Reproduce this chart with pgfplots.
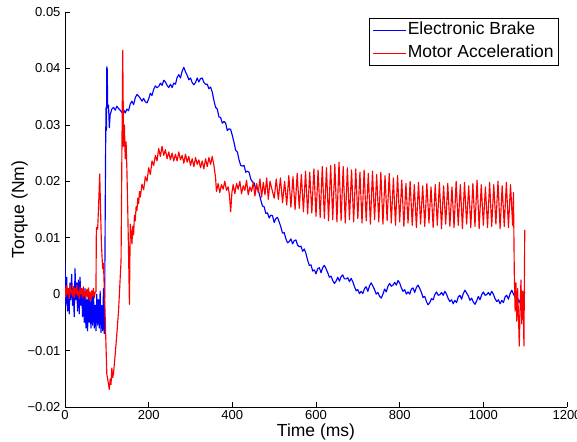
\documentclass[border=0pt]{standalone}
\usepackage{pgfplots}
\pgfplotsset{compat=1.18}
\usepackage{fontspec}
\setmainfont{Liberation Sans}
\usetikzlibrary{calc}

% Electronic Brake (time in ms, torque in Nm)
\pgfplotstableread{
t v
0 0.0058
2 -0.0020
4 0.0030
6 -0.0030
8 0.0010
10 -0.0035
12 0.0020
14 -0.0010
16 0.0035
18 -0.0020
20 0.0010
22 -0.0040
24 0.0045
26 -0.0010
28 0.0020
30 -0.0030
32 0.0025
34 -0.0035
36 0.0030
38 -0.0020
40 0.0010
42 -0.0040
44 0.0005
46 -0.0050
48 0.0010
50 -0.0060
52 -0.0010
54 -0.0065
56 0.0010
58 -0.0050
60 -0.0010
62 -0.0060
64 0.0000
66 -0.0055
68 0.0005
70 -0.0060
72 -0.0020
74 -0.0065
76 0.0000
78 -0.0055
80 -0.0010
82 -0.0060
84 0.0005
86 -0.0068
88 -0.0020
90 -0.0065
92 0.0010
94 -0.0070
95 0.0005
97 0.0250
98 0.0330
99 0.0290
100 0.0403
101 0.0398
102 0.0330
104 0.0335
106 0.0295
108 0.0318
112 0.0328
116 0.0331
120 0.0326
124 0.0333
128 0.0329
132 0.0326
136 0.0322
140 0.0327
144 0.0321
148 0.0328
152 0.0325
156 0.0337
160 0.0342
164 0.0336
168 0.0348
172 0.0354
176 0.0351
180 0.0347
184 0.0342
188 0.0347
192 0.0341
196 0.0339
200 0.0346
204 0.0356
208 0.0352
212 0.0363
216 0.0369
220 0.0366
224 0.0368
228 0.0374
232 0.0370
236 0.0379
240 0.0376
244 0.0370
248 0.0366
252 0.0372
256 0.0366
260 0.0374
264 0.0372
268 0.0384
272 0.0389
276 0.0383
280 0.0395
284 0.0402
288 0.0394
292 0.0388
296 0.0380
300 0.0383
304 0.0375
308 0.0371
312 0.0375
316 0.0383
320 0.0376
324 0.0382
328 0.0383
332 0.0375
336 0.0372
340 0.0372
344 0.0364
348 0.0367
352 0.0358
356 0.0343
360 0.0331
364 0.0328
368 0.0314
372 0.0313
376 0.0303
380 0.0306
384 0.0303
388 0.0290
392 0.0293
396 0.0292
400 0.0281
404 0.0269
408 0.0255
412 0.0252
416 0.0238
420 0.0228
424 0.0227
428 0.0228
432 0.0216
436 0.0218
440 0.0216
444 0.0204
448 0.0199
452 0.0197
456 0.0186
460 0.0189
464 0.0179
468 0.0167
472 0.0156
476 0.0155
480 0.0143
484 0.0144
488 0.0135
492 0.0140
496 0.0139
500 0.0127
504 0.0134
508 0.0136
512 0.0128
516 0.0119
520 0.0108
524 0.0109
528 0.0098
532 0.0091
536 0.0093
540 0.0098
544 0.0089
548 0.0095
552 0.0096
556 0.0087
560 0.0084
564 0.0085
568 0.0076
572 0.0080
576 0.0072
580 0.0060
584 0.0051
588 0.0052
592 0.0041
596 0.0043
600 0.0036
604 0.0045
608 0.0047
612 0.0038
616 0.0047
620 0.0051
624 0.0045
628 0.0038
632 0.0030
636 0.0032
640 0.0024
644 0.0019
648 0.0023
652 0.0030
656 0.0023
660 0.0031
664 0.0034
668 0.0027
672 0.0027
676 0.0029
680 0.0022
684 0.0028
688 0.0022
692 0.0013
696 0.0006
700 0.0008
704 0.0001
708 0.0005
712 0.0001
716 0.0010
720 0.0013
724 0.0005
728 0.0015
732 0.0020
736 0.0014
740 0.0008
744 0.0000
748 0.0003
752 -0.0004
756 -0.0007
760 0.0000
764 0.0009
768 0.0004
772 0.0014
776 0.0019
780 0.0014
784 0.0016
788 0.0021
792 0.0016
796 0.0024
800 0.0020
804 0.0011
808 0.0005
812 0.0008
816 0.0000
820 0.0004
824 0.0000
828 0.0009
832 0.0011
836 0.0003
840 0.0012
844 0.0016
848 0.0010
852 0.0003
856 -0.0006
860 -0.0004
864 -0.0013
868 -0.0019
872 -0.0015
876 -0.0008
880 -0.0010
884 -0.0001
888 0.0004
892 -0.0002
896 -0.0001
900 0.0003
904 -0.0002
908 0.0005
912 0.0000
916 -0.0008
920 -0.0013
924 -0.0010
928 -0.0017
932 -0.0011
936 -0.0015
940 -0.0005
944 -0.0002
948 -0.0009
952 0.0001
956 0.0007
960 0.0002
964 -0.0003
968 -0.0011
972 -0.0007
976 -0.0014
980 -0.0018
984 -0.0012
988 -0.0004
992 -0.0010
996 -0.0001
1000 0.0004
1004 -0.0002
1008 -0.0001
1012 0.0003
1016 -0.0002
1020 0.0005
1024 0.0000
1028 -0.0008
1032 -0.0013
1036 -0.0010
1040 -0.0017
1044 -0.0011
1048 -0.0015
1052 -0.0005
1056 -0.0002
1060 -0.0009
1064 0.0001
1068 0.0007
1072 0.0000
1076 -0.0005
1080 -0.0022
1084 -0.0009
1088 -0.0016
1092 0.0002
1096 -0.0004
1099 0.0004
}\brake

% Motor Acceleration (time in ms, torque in Nm)
\pgfplotstableread{
t v
0 0.0012
2 -0.0005
4 0.0015
6 0.0000
8 0.0010
10 -0.0008
12 0.0018
14 0.0002
16 0.0008
18 -0.0004
20 0.0014
22 -0.0006
24 0.0010
26 0.0001
28 0.0016
30 -0.0002
32 0.0006
34 -0.0008
36 0.0012
38 0.0000
40 0.0009
42 -0.0006
44 0.0013
46 -0.0003
48 0.0005
50 -0.0009
52 0.0008
54 -0.0004
56 0.0011
58 -0.0010
60 0.0004
62 -0.0012
64 0.0006
66 -0.0002
68 0.0010
70 -0.0007
72 0.0003
74 0.0004
75 0.0118
78 0.0115
80 0.0150
83 0.0213
85 0.0150
87 0.0090
90 0.0045
92 0.0055
96 -0.0040
100 -0.0142
103 -0.0155
106 -0.0169
108 -0.0150
110 -0.0160
112 -0.0131
114 -0.0148
116 -0.0140
120 -0.0107
124 -0.0070
128 -0.0030
132 0.0030
134 0.0059
136 0.0250
138 0.0432
140 0.0262
142 0.0300
144 0.0240
146 0.0270
148 0.0219
150 0.0150
152 0.0070
154 -0.0018
156 0.0124
158 0.0110
160 0.0089
162 0.0120
164 0.0105
166 0.0140
168 0.0130
170 0.0155
172 0.0148
174 0.0170
176 0.0160
178 0.0182
180 0.0172
184 0.0195
188 0.0185
192 0.0208
196 0.0200
200 0.0224
204 0.0212
208 0.0236
212 0.0228
216 0.0246
220 0.0236
224 0.0258
228 0.0244
232 0.0262
236 0.0246
240 0.0256
244 0.0240
248 0.0252
252 0.0238
256 0.0250
260 0.0236
264 0.0248
268 0.0236
272 0.0252
276 0.0238
280 0.0246
284 0.0232
288 0.0248
292 0.0234
296 0.0244
300 0.0228
304 0.0240
308 0.0226
312 0.0242
316 0.0230
320 0.0238
324 0.0224
328 0.0236
332 0.0222
336 0.0240
340 0.0226
344 0.0242
348 0.0230
352 0.0244
356 0.0228
360 0.0206
362 0.0182
366 0.0196
370 0.0180
374 0.0194
378 0.0186
382 0.0200
386 0.0184
390 0.0190
393 0.0176
396 0.0146
399 0.0180
402 0.0194
406 0.0178
410 0.0196
414 0.0186
418 0.0200
422 0.0178
426 0.0192
430 0.0184
434 0.0202
438 0.0176
442 0.0190
446 0.0182
450 0.0198
454 0.0174
458 0.0196
462 0.0180
466 0.0204
470 0.0172
474 0.0198
478 0.0176
482 0.0206
486 0.0168
490 0.0200
500 0.0170
505 0.0204
510 0.0168
515 0.0206
520 0.0162
525 0.0200
530 0.0158
535 0.0210
540 0.0154
545 0.0208
550 0.0150
555 0.0214
560 0.0152
565 0.0212
570 0.0146
575 0.0218
580 0.0142
585 0.0216
590 0.0144
595 0.0222
600 0.0138
605 0.0220
610 0.0136
615 0.0226
620 0.0134
625 0.0224
630 0.0130
635 0.0228
640 0.0132
645 0.0230
650 0.0128
655 0.0234
660 0.0130
665 0.0226
670 0.0126
675 0.0224
680 0.0132
685 0.0220
690 0.0128
695 0.0222
700 0.0134
705 0.0216
710 0.0126
715 0.0220
720 0.0130
725 0.0214
730 0.0124
735 0.0218
740 0.0132
745 0.0212
750 0.0128
755 0.0216
760 0.0124
765 0.0210
770 0.0130
775 0.0214
780 0.0126
785 0.0206
790 0.0122
795 0.0210
800 0.0128
805 0.0202
810 0.0120
815 0.0196
820 0.0126
825 0.0200
830 0.0122
835 0.0194
840 0.0118
845 0.0198
850 0.0124
855 0.0192
860 0.0120
865 0.0196
870 0.0126
875 0.0190
880 0.0118
885 0.0194
890 0.0122
895 0.0198
900 0.0116
905 0.0192
910 0.0124
915 0.0196
920 0.0120
925 0.0190
930 0.0118
935 0.0200
940 0.0122
945 0.0194
950 0.0116
955 0.0198
960 0.0124
965 0.0192
970 0.0118
975 0.0196
980 0.0120
985 0.0202
990 0.0116
995 0.0194
1000 0.0122
1005 0.0190
1010 0.0118
1015 0.0198
1020 0.0120
1025 0.0194
1030 0.0124
1035 0.0200
1040 0.0116
1045 0.0192
1050 0.0120
1055 0.0198
1060 0.0118
1065 0.0194
1070 0.0122
1072 0.0180
1074 0.0036
1076 -0.0030
1078 0.0020
1080 -0.0048
1082 0.0010
1084 -0.0040
1086 -0.0092
1088 -0.0020
1090 0.0025
1092 -0.0053
1094 0.0005
1096 -0.0035
1097 -0.0092
1099 0.0114
}\motor

\begin{document}
\begin{tikzpicture}
\begin{axis}[
  scale only axis,
  width=502pt, height=395pt,
  xmin=0, xmax=1200, ymin=-0.02, ymax=0.05,
  axis lines=left,
  axis line style={-, black, line width=0.6pt},
  tick align=inside,
  major tick length=5pt,
  tick style={black, line width=0.6pt},
  xtick={0,200,400,600,800,1000,1200},
  xticklabels={0,200,400,600,800,1000,1200},
  ytick={-0.02,-0.01,0,0.01,0.02,0.03,0.04,0.05},
  yticklabels={−0.02,−0.01,0,0.01,0.02,0.03,0.04,0.05},
  ticklabel style={font=\fontsize{13}{15}\selectfont},
  yticklabel style={xshift=-1pt},
  xlabel={Time (ms)},
  ylabel={Torque (Nm)},
  xlabel style={font=\fontsize{17.5}{20}\selectfont, inner sep=0pt,
    at={(axis description cs:0.5,0)}, anchor=north, yshift=-17pt},
  ylabel style={font=\fontsize{17.5}{20}\selectfont, inner sep=0pt,
    at={(axis description cs:-0.0737,0.5)}, anchor=south},
  legend style={at={(1,1)}, anchor=north east, xshift=-8pt, yshift=-6pt,
    font=\fontsize{17.5}{20}\selectfont, line width=0.6pt,
    inner xsep=4pt, inner ysep=2pt, row sep=3pt,
    nodes={inner sep=1pt, text height=13pt, text depth=5pt},
    cells={anchor=west}},
  legend image code/.code={\draw[#1, line width=0.9pt] (0pt,0pt) -- (33pt,0pt);},
  every axis plot/.append style={line width=1.15pt, line join=round},
]
\addplot[draw=blue] table[x=t, y=v] {\brake};
\addlegendentry{Electronic Brake}
\addplot[draw=red] table[x=t, y=v] {\motor};
\addlegendentry{Motor Acceleration}
\coordinate (ll) at (rel axis cs:0,0);
\coordinate (ur) at (rel axis cs:1,1);
\end{axis}
\pgfresetboundingbox
\path[use as bounding box] ($(ll)+(-65pt,-34pt)$) rectangle ($(ur)+(10pt,12pt)$);
\end{tikzpicture}
\end{document}
